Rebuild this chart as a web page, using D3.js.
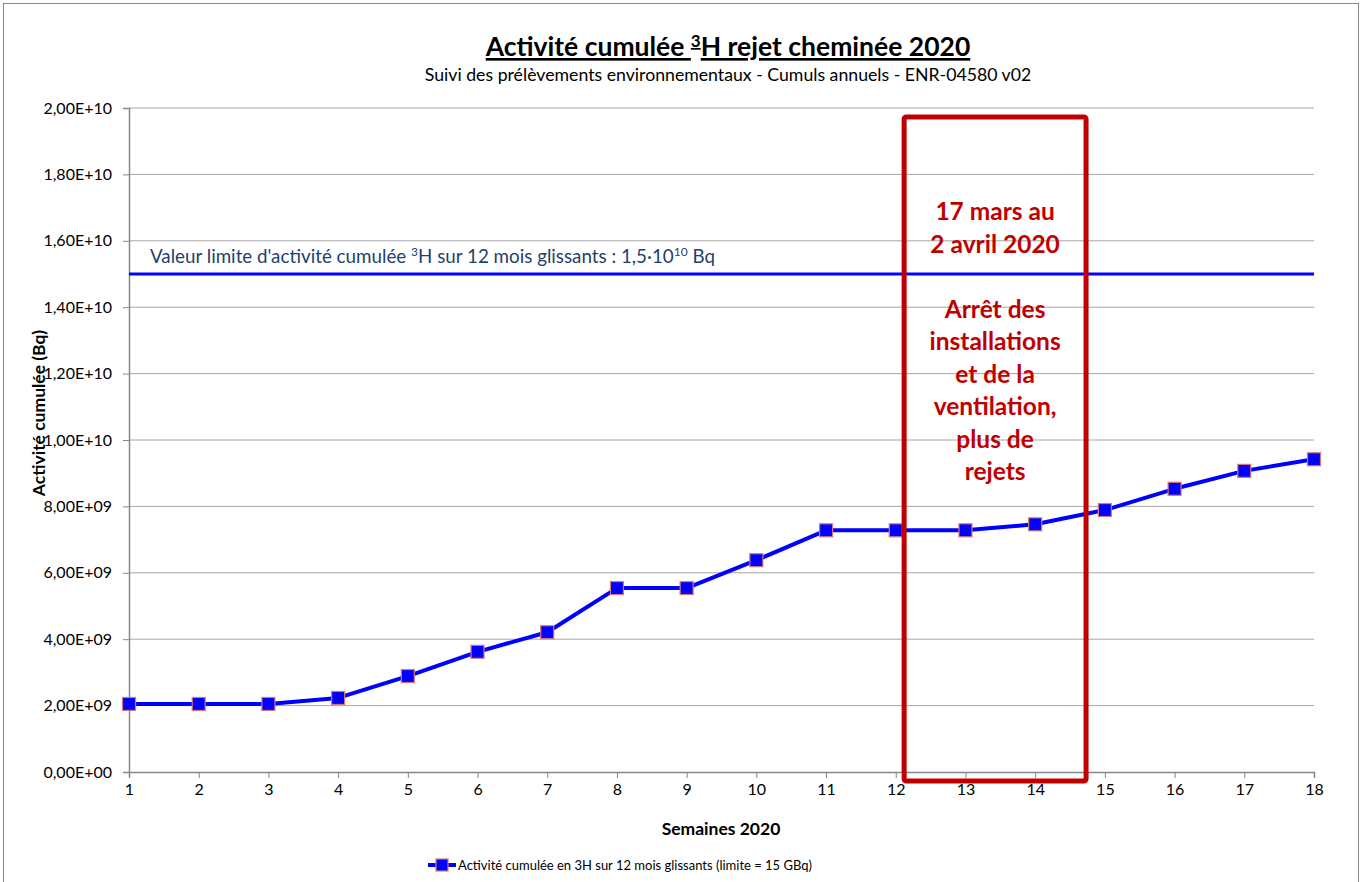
<!DOCTYPE html>
<html>
<head>
<meta charset="utf-8">
<script src="https://cdn.jsdelivr.net/npm/d3@7"></script>
<style>
  body { margin: 0; background: #fff; }
  text { font-family: Lato, "Open Sans", sans-serif; }
</style>
</head>
<body>
<svg id="chart" width="1364" height="882"></svg>
<script>
// weeks and cumulative activity (Bq)
var weeks = [1, 2, 3, 4, 5, 6, 7, 8, 9, 10, 11, 12, 13, 14, 15, 16, 17, 18];
var activity = [2.05e9, 2.05e9, 2.05e9, 2.23e9, 2.89e9, 3.62e9, 4.21e9, 5.54e9, 5.54e9,
                6.38e9, 7.28e9, 7.28e9, 7.28e9, 7.46e9, 7.89e9, 8.53e9, 9.07e9, 9.42e9];
var yTicks = [0, 2e9, 4e9, 6e9, 8e9, 1e10, 1.2e10, 1.4e10, 1.6e10, 1.8e10, 2e10];
var limit = 1.5e10;
// shutdown period box (in week / Bq units)
var shutdown = {x0: 12.12, x1: 14.73, y0: -0.27e9, y1: 19.73e9};
var boxLines = ["17 mars au", "2 avril 2020", "", "Arrêt des", "installations", "et de la", "ventilation,", "plus de", "rejets"];

var margin = {top: 108, right: 50, bottom: 110, left: 129};
var width = 1314 - margin.left;
var height = 772 - margin.top;

var svg = d3.select("#chart");

// outer frame
svg.append("rect")
    .attr("x", 3.5).attr("y", 3.5)
    .attr("width", 1355).attr("height", 880)
    .attr("fill", "none").attr("stroke", "#868686");

var g = svg.append("g").attr("transform", "translate(" + margin.left + "," + margin.top + ")");

var x = d3.scaleLinear().domain([1, 18]).range([0, width]);
var y = d3.scaleLinear().domain([0, 2e10]).range([height, 0]);

var fmt = function(d) {
  return d3.format(".2e")(d).replace(".", ",").replace("e+", "E+").replace(/E\+(\d)$/, "E+0$1").toUpperCase();
};

// grid
g.append("g")
    .selectAll("line")
    .data(yTicks.slice(1))
    .join("line")
    .attr("x1", 0).attr("x2", width)
    .attr("y1", function(d) { return y(d); }).attr("y2", function(d) { return y(d); })
    .attr("stroke", "#a6a6a6").attr("stroke-width", 1);

// y axis
var yAxis = g.append("g")
    .call(d3.axisLeft(y).tickValues(yTicks).tickSize(6).tickFormat(fmt));
yAxis.select(".domain").attr("stroke", "#868686").attr("stroke-width", 1.5);
yAxis.selectAll(".tick line").attr("stroke", "#868686");
yAxis.selectAll(".tick text")
    .attr("x", -17)
    .attr("fill", "#000")
    .style("font-size", "16px");

// x axis
var xAxis = g.append("g")
    .attr("transform", "translate(0," + height + ")")
    .call(d3.axisBottom(x).tickValues(weeks).tickSize(6).tickSizeOuter(6).tickFormat(d3.format("d")));
xAxis.select(".domain").attr("stroke", "#868686").attr("stroke-width", 1.5);
xAxis.selectAll(".tick line").attr("stroke", "#868686");
xAxis.selectAll(".tick text")
    .attr("y", 12)
    .attr("fill", "#000")
    .style("font-size", "16px");

// limit line
g.append("line")
    .attr("x1", x(1)).attr("x2", x(18))
    .attr("y1", y(limit)).attr("y2", y(limit))
    .attr("stroke", "#0000ff").attr("stroke-width", 3);

var lim = g.append("text")
    .attr("x", 21).attr("y", y(limit) - 11)
    .attr("fill", "#1f3f6e")
    .style("font-size", "18.8px");
lim.append("tspan").text("Valeur limite d'activité cumulée ");
lim.append("tspan").attr("dy", -7).style("font-size", "12px").text("3");
lim.append("tspan").attr("dy", 7).text("H sur 12 mois  glissants : 1,5·10");
lim.append("tspan").attr("dy", -7).style("font-size", "12px").text("10");
lim.append("tspan").attr("dy", 7).text(" Bq");

// data line
var line = d3.line()
    .x(function(d, i) { return x(weeks[i]); })
    .y(function(d) { return y(d); });

g.append("path")
    .datum(activity)
    .attr("d", line)
    .attr("fill", "none")
    .attr("stroke", "#0000ff")
    .attr("stroke-width", 4)
    .attr("stroke-linejoin", "round");

g.selectAll(".pt")
    .data(activity)
    .join("rect")
    .attr("class", "pt")
    .attr("x", function(d, i) { return x(weeks[i]) - 6.5; })
    .attr("y", function(d) { return y(d) - 6.5; })
    .attr("width", 13).attr("height", 13)
    .attr("fill", "#0000ff")
    .attr("stroke", "#d87878").attr("stroke-width", 1.2);

// shutdown box
g.append("rect")
    .attr("x", x(shutdown.x0)).attr("y", y(shutdown.y1))
    .attr("width", x(shutdown.x1) - x(shutdown.x0))
    .attr("height", y(shutdown.y0) - y(shutdown.y1))
    .attr("rx", 2)
    .attr("fill", "none")
    .attr("stroke", "#c00000").attr("stroke-width", 5);

var cx = (x(shutdown.x0) + x(shutdown.x1)) / 2;
g.append("g").selectAll("text")
    .data(boxLines)
    .join("text")
    .attr("x", cx)
    .attr("y", function(d, i) { return 112 + i * 32.5; })
    .attr("text-anchor", "middle")
    .attr("fill", "#c00000")
    .style("font-size", "24.5px")
    .style("font-weight", "bold")
    .text(function(d) { return d; });

// titles
var title = svg.append("text")
    .attr("x", 728).attr("y", 56)
    .attr("text-anchor", "middle")
    .style("font-size", "26.5px")
    .style("font-weight", "bold")
    .style("text-decoration", "underline");
title.append("tspan").text("Activité cumulée ");
title.append("tspan").attr("dy", -9).style("font-size", "17px").text("3");
title.append("tspan").attr("dy", 9).text("H rejet cheminée 2020");

svg.append("text")
    .attr("x", 728).attr("y", 81)
    .attr("text-anchor", "middle")
    .style("font-size", "17.7px")
    .text("Suivi des prélèvements environnementaux - Cumuls annuels - ENR-04580 v02");

svg.append("text")
    .attr("x", 721).attr("y", 835)
    .attr("text-anchor", "middle")
    .style("font-size", "17.5px")
    .style("font-weight", "bold")
    .text("Semaines 2020");

svg.append("text")
    .attr("transform", "translate(45,413) rotate(-90)")
    .attr("text-anchor", "middle")
    .style("font-size", "17.5px")
    .style("font-weight", "bold")
    .text("Activité cumulée (Bq)");

// legend
var leg = svg.append("g").attr("transform", "translate(428,865)");
leg.append("line").attr("x1", 0).attr("x2", 28).attr("stroke", "#0000ff").attr("stroke-width", 4);
leg.append("rect").attr("x", 8).attr("y", -6).attr("width", 12).attr("height", 12)
    .attr("fill", "#0000ff").attr("stroke", "#d87878").attr("stroke-width", 1.2);
leg.append("text").attr("x", 30).attr("y", 5)
    .style("font-size", "13px")
    .text("Activité cumulée en 3H sur 12 mois glissants (limite = 15 GBq)");
</script>
</body>
</html>
